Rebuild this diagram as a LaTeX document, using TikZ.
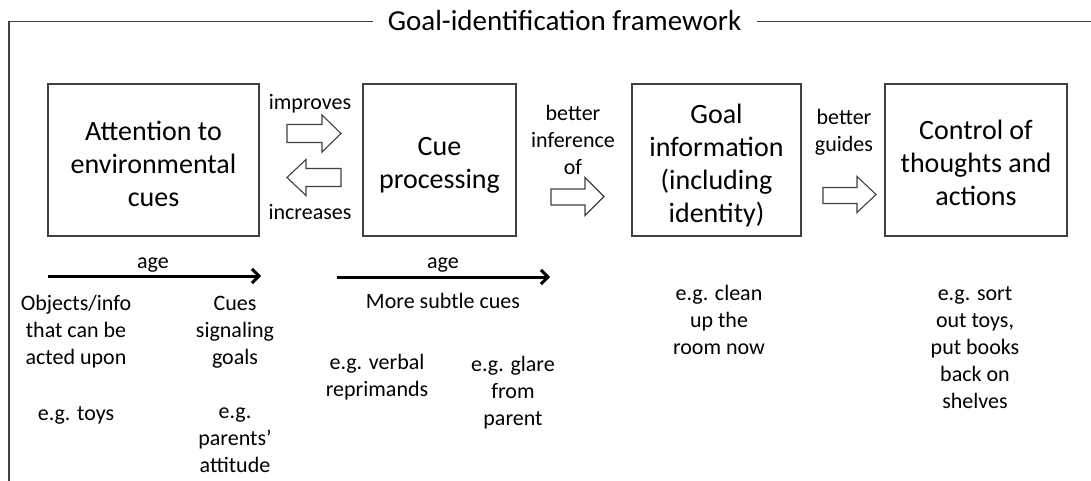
\documentclass[tikz,border=0pt]{standalone}
\usepackage{fontspec}
\setmainfont{Carlito}
\usetikzlibrary{arrows.meta}
\begin{document}
\begin{tikzpicture}[x=1pt,y=-1pt,
  frame/.style={draw=black!75,line width=1.3pt},
  box/.style={draw=black!75,line width=1.3pt,inner sep=0pt},
  boxtext/.style={inner sep=0pt,align=center,font=\fontsize{28}{33}\selectfont},
  lbl/.style={inner sep=0pt,align=center,font=\fontsize{22}{27}\selectfont},
  hollow/.style={draw=black!75,line width=1.1pt,fill=white,line join=miter},
  agearrow/.style={line width=3pt,-{Straight Barb[length=7pt,width=14pt]}}]
\useasboundingbox (0,0) rectangle (1091,481);
% frame and title
\node[inner sep=0pt,font=\fontsize{29}{35}\selectfont] (title) at (564.5,24) {Goal-identification framework\strut};
\coordinate (fTL) at (9,21.5);
\coordinate (fBL) at (9,481);
\coordinate (fTR) at (1091,21.5);
\draw[frame] (373,21.5) -- (fTL) -- (fBL);
\draw[frame] (757,21.5) -- (fTR);
% boxes
\node[box,minimum width=211pt,minimum height=152pt] (att) at (153.5,160) {};
\node[box,minimum width=153pt,minimum height=152pt] (cue) at (439.5,160) {};
\node[box,minimum width=169pt,minimum height=152pt] (goal) at (716.5,160) {};
\node[box,minimum width=182pt,minimum height=152pt] (ctrl) at (976,160) {};
\node[boxtext] (attT) at (153.5,167) {Attention to\strut\\environmental\strut\\cues\strut};
\node[boxtext] (cueT) at (439.5,165) {Cue\strut\\processing\strut};
\node[boxtext] (goalT) at (716.5,166) {Goal\strut\\information\strut\\(including\strut\\identity)\strut};
\node[boxtext] (ctrlT) at (976,166) {Control of\strut\\thoughts and\strut\\actions\strut};
% hollow block arrows
\draw[hollow] (287,124.5) -- (322,124.5) -- (322,115) -- (341,133.5) -- (322,152) -- (322,142.5) -- (287,142.5) -- cycle;
\draw[hollow] (341,168.5) -- (306,168.5) -- (306,159.5) -- (287,177.5) -- (306,195.5) -- (306,186.5) -- (341,186.5) -- cycle;
\draw[hollow] (551,189) -- (585,189) -- (585,177.5) -- (604,196.5) -- (585,215.5) -- (585,205) -- (551,205) -- cycle;
\draw[hollow] (823,187.5) -- (857,187.5) -- (857,176.5) -- (876,194.5) -- (857,212.5) -- (857,203.5) -- (823,203.5) -- cycle;
% arrow labels
\node[lbl] (impr) at (310,104) {improves\strut};
\node[lbl] (incr) at (310,214) {increases\strut};
\node[lbl] (binf) at (573,142) {better\strut\\inference\strut\\of\strut};
\node[lbl] (bgui) at (844,133) {better\strut\\guides\strut};
% age arrows
\coordinate (a1s) at (48,276);
\coordinate (a1e) at (261,276);
\coordinate (a2s) at (337,277);
\coordinate (a2e) at (550,277);
\draw[agearrow] (a1s) -- (a1e);
\draw[agearrow] (a2s) -- (a2e);
\node[lbl] (age1) at (153,263) {age\strut};
\node[lbl] (age2) at (443,263) {age\strut};
% lower texts
\node[lbl] (obj) at (76,332) {Objects/info\strut\\that can be\strut\\acted upon\strut};
\node[lbl] (cues) at (235,332) {Cues\strut\\signaling\strut\\goals\strut};
\node[lbl] (toys) at (76,415) {e.g. toys\strut};
\node[lbl] (par) at (235,440) {e.g.\strut\\parents’\strut\\attitude\strut};
\node[lbl] (subtle) at (443,303) {More subtle cues\strut};
\node[lbl] (verbal) at (377,378) {e.g. verbal\strut\\reprimands\strut};
\node[lbl] (glare) at (513,393) {e.g. glare\strut\\from\strut\\parent\strut};
\node[lbl] (clean) at (719,322) {e.g. clean\strut\\up the\strut\\room now\strut};
\node[lbl] (sort) at (975,349) {e.g. sort\strut\\out toys,\strut\\put books\strut\\back on\strut\\shelves\strut};
\end{tikzpicture}
\end{document}
